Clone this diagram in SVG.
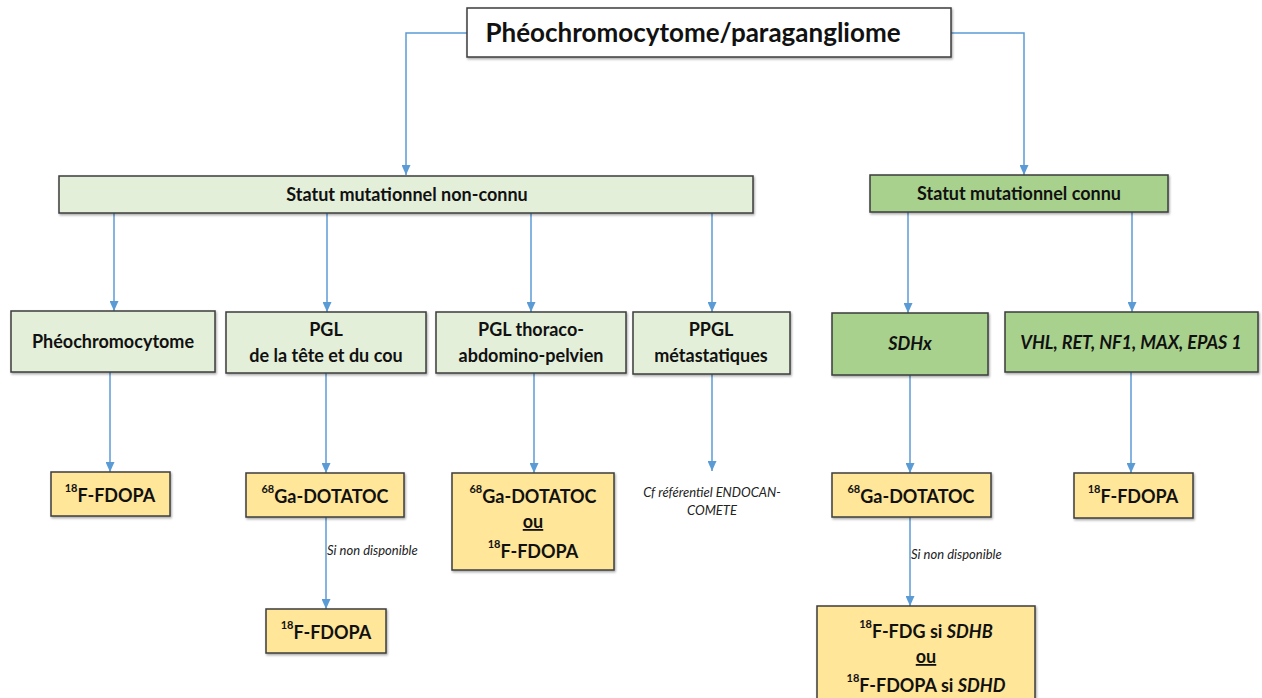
<svg xmlns="http://www.w3.org/2000/svg" width="1262" height="698" viewBox="0 0 1262 698">
<defs>
<marker id="arr" markerWidth="10" markerHeight="9" refX="10" refY="4.5" orient="auto" markerUnits="userSpaceOnUse">
<path d="M0,0 L10,4.5 L0,9 Z" fill="#5B9BD5"/>
</marker>
<filter id="sh" x="-5%" y="-5%" width="110%" height="120%">
<feDropShadow dx="1" dy="1.5" stdDeviation="0.8" flood-color="#000" flood-opacity="0.35"/>
</filter>
</defs>
<style>
.b{stroke:#3c3c3c;stroke-width:1.5;filter:url(#sh)}
.w{fill:#ffffff}
.lg{fill:#E3EFD9}
.dg{fill:#A9D18E}
.y{fill:#FFE699}
.t{font-family:Lato,"Open Sans","Liberation Sans",sans-serif;font-weight:bold;fill:#111;text-anchor:middle}
.s{font-family:Lato,"Open Sans","Liberation Sans",sans-serif;font-style:italic;fill:#222;font-size:13px}
.c{fill:none;stroke:#5B9BD5;stroke-width:1.5;marker-end:url(#arr)}
</style>
<rect width="1262" height="698" fill="#ffffff"/>
<g id="connectors">
<path class="c" d="M467,33 H406 V175"/>
<path class="c" d="M951,33 H1024 V175"/>
<path class="c" d="M114,213 V311"/>
<path class="c" d="M327,213 V312"/>
<path class="c" d="M531,213 V312"/>
<path class="c" d="M712,213 V312"/>
<path class="c" d="M908,212 V313"/>
<path class="c" d="M1132,212 V312"/>
<path class="c" d="M110,372 V472"/>
<path class="c" d="M326,373 V473"/>
<path class="c" d="M534,373 V473"/>
<path class="c" d="M712,374 V471"/>
<path class="c" d="M910,375 V473"/>
<path class="c" d="M1131,372 V473"/>
<path class="c" d="M326,517 V609"/>
<path class="c" d="M910,517 V606"/>
<text class="s" x="327" y="555">Si non disponible</text>
<text class="s" x="911" y="559">Si non disponible</text>
</g>
<g id="root">
<rect class="b w" x="467" y="8" width="484" height="49"/>
<text class="t" x="693" y="42" font-size="26">Phéochromocytome/paragangliome</text>
</g>
<g id="nonconnu">
<rect class="b lg" x="59" y="176" width="694" height="37"/>
<text class="t" x="407" y="201" font-size="18">Statut mutationnel non-connu</text>
</g>
<g id="connu">
<rect class="b dg" x="870" y="175" width="298" height="37"/>
<text class="t" x="1019" y="200" font-size="18">Statut mutationnel connu</text>
</g>
<g id="pheo">
<rect class="b lg" x="11" y="311" width="204" height="61"/>
<text class="t" x="113" y="348" font-size="18">Phéochromocytome</text>
</g>
<g id="pgl-tete">
<rect class="b lg" x="226" y="312" width="200" height="61"/>
<text class="t" x="326" y="336" font-size="18">PGL</text>
<text class="t" x="326" y="362" font-size="18">de la tête et du cou</text>
</g>
<g id="pgl-thoraco">
<rect class="b lg" x="436" y="312" width="190" height="61"/>
<text class="t" x="531" y="336" font-size="18">PGL thoraco-</text>
<text class="t" x="531" y="362" font-size="18">abdomino-pelvien</text>
</g>
<g id="ppgl">
<rect class="b lg" x="633" y="312" width="157" height="62"/>
<text class="t" x="711" y="336" font-size="18">PPGL</text>
<text class="t" x="711" y="362" font-size="18">métastatiques</text>
</g>
<g id="sdhx">
<rect class="b dg" x="832" y="313" width="156" height="62"/>
<text class="t" x="910" y="350" font-size="18" font-style="italic">SDHx</text>
</g>
<g id="vhl">
<rect class="b dg" x="1005" y="312" width="253" height="60"/>
<text class="t" x="1131" y="349" font-size="18" font-style="italic">VHL, RET, NF1, MAX, EPAS 1</text>
</g>
<g id="fdopa-pheo">
<rect class="b y" x="51" y="472" width="119" height="44"/>
<text class="t" x="110" y="502"><tspan font-size="11" dy="-10">18</tspan><tspan font-size="18" dy="10">F-FDOPA</tspan></text>
</g>
<g id="ga-tete">
<rect class="b y" x="246" y="473" width="158" height="44"/>
<text class="t" x="325" y="503"><tspan font-size="11" dy="-10">68</tspan><tspan font-size="18" dy="10">Ga-DOTATOC</tspan></text>
</g>
<g id="fdopa-tete">
<rect class="b y" x="266" y="609" width="120" height="44"/>
<text class="t" x="326" y="639"><tspan font-size="11" dy="-10">18</tspan><tspan font-size="18" dy="10">F-FDOPA</tspan></text>
</g>
<g id="thoraco-res">
<rect class="b y" x="452" y="473" width="162" height="97"/>
<text class="t" x="533" y="503"><tspan font-size="11" dy="-10">68</tspan><tspan font-size="18" dy="10">Ga-DOTATOC</tspan></text>
<text class="t" x="533" y="528" font-size="18" text-decoration="underline">ou</text>
<text class="t" x="533" y="558"><tspan font-size="11" dy="-10">18</tspan><tspan font-size="18" dy="10">F-FDOPA</tspan></text>
</g>
<g id="cf">
<text class="s" x="712" y="497" text-anchor="middle">Cf référentiel ENDOCAN-</text>
<text class="s" x="712" y="515" text-anchor="middle">COMETE</text>
</g>
<g id="ga-sdhx">
<rect class="b y" x="832" y="473" width="159" height="44"/>
<text class="t" x="911" y="503"><tspan font-size="11" dy="-10">68</tspan><tspan font-size="18" dy="10">Ga-DOTATOC</tspan></text>
</g>
<g id="fdopa-vhl">
<rect class="b y" x="1074" y="473" width="119" height="45"/>
<text class="t" x="1133" y="503"><tspan font-size="11" dy="-10">18</tspan><tspan font-size="18" dy="10">F-FDOPA</tspan></text>
</g>
<g id="sdhx-res">
<rect class="b y" x="817" y="606" width="218" height="100"/>
<text class="t" x="926" y="638"><tspan font-size="11" dy="-10">18</tspan><tspan font-size="18" dy="10">F-FDG si </tspan><tspan font-size="18" font-style="italic">SDHB</tspan></text>
<text class="t" x="926" y="663" font-size="18" text-decoration="underline">ou</text>
<text class="t" x="926" y="692"><tspan font-size="11" dy="-10">18</tspan><tspan font-size="18" dy="10">F-FDOPA si </tspan><tspan font-size="18" font-style="italic">SDHD</tspan></text>
</g>
</svg>
